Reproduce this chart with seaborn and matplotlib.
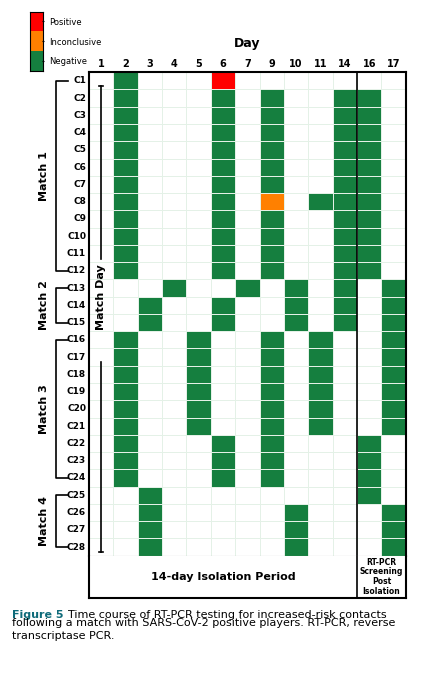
import numpy as np
import pandas as pd
import seaborn as sns
import matplotlib
matplotlib.use('Agg')
import matplotlib.pyplot as plt
from matplotlib.colors import ListedColormap

days = ['1', '2', '3', '4', '5', '6', '7', '9', '10', '11', '14', '16', '17']
contacts = ['C%d' % i for i in range(1, 29)]

# 1 = negative, 2 = inconclusive, 3 = positive (per contact: {day: result})
negative_days = {
    'C1': ['2'], 'C2': ['2', '6', '9', '14', '16'], 'C3': ['2', '6', '9', '14', '16'],
    'C4': ['2', '6', '9', '14', '16'], 'C5': ['2', '6', '9', '14', '16'],
    'C6': ['2', '6', '9', '14', '16'], 'C7': ['2', '6', '9', '14', '16'],
    'C8': ['2', '6', '11', '14', '16'], 'C9': ['2', '6', '9', '14', '16'],
    'C10': ['2', '6', '9', '14', '16'], 'C11': ['2', '6', '9', '14', '16'],
    'C12': ['2', '6', '9', '14', '16'],
    'C13': ['4', '7', '10', '14', '17'], 'C14': ['3', '6', '10', '14', '17'],
    'C15': ['3', '6', '10', '14', '17'],
    'C16': ['2', '5', '9', '11', '17'], 'C17': ['2', '5', '9', '11', '17'],
    'C18': ['2', '5', '9', '11', '17'], 'C19': ['2', '5', '9', '11', '17'],
    'C20': ['2', '5', '9', '11', '17'], 'C21': ['2', '5', '9', '11', '17'],
    'C22': ['2', '6', '9', '16'], 'C23': ['2', '6', '9', '16'], 'C24': ['2', '6', '9', '16'],
    'C25': ['3', '16'], 'C26': ['3', '10', '17'], 'C27': ['3', '10', '17'],
    'C28': ['3', '10', '17'],
}
inconclusive = [('C8', '9')]
positive = [('C1', '6')]

matches = ['Match 1', 'Match 2', 'Match 3', 'Match 4']
match_rows = [(0, 11), (12, 14), (15, 23), (24, 27)]

status_labels = ['Negative', 'Inconclusive', 'Positive']
status_colors = ['#157f3f', '#ff8000', '#ff0000']

df = pd.DataFrame(np.nan, index=contacts, columns=days)
for c, ds in negative_days.items():
    for d in ds:
        df.loc[c, d] = 1
for c, d in inconclusive:
    df.loc[c, d] = 2
for c, d in positive:
    df.loc[c, d] = 3

fig = plt.figure(figsize=(4.25, 6.81), dpi=100)
ax = fig.add_axes([0.209, 0.184, 0.746, 0.71])
cmap = ListedColormap(status_colors)
sns.heatmap(df, ax=ax, cmap=cmap, vmin=0.5, vmax=3.5, cbar=False,
            linewidths=0.4, linecolor='#e4f1e7')
ax.xaxis.tick_top()
ax.tick_params(length=0, pad=2)
ax.set_xticklabels(days, fontsize=7, fontweight='bold', rotation=0)
ax.set_yticklabels(contacts, fontsize=6.5, fontweight='bold', rotation=0)
ax.set_xlabel('')
ax.set_ylabel('')
ax.text(6.5, -1.3, 'Day', ha='center', va='bottom', fontsize=9, fontweight='bold')
for s in ['top', 'right', 'left']:
    ax.spines[s].set_visible(True)
    ax.spines[s].set_linewidth(1.5)
ax.spines['bottom'].set_visible(True)
ax.spines['bottom'].set_color('#999999')
ax.axvline(11, color='black', lw=1.2)

# bracket labels for matches
for name, (r0, r1) in zip(matches, match_rows):
    x0, x1 = -0.85, -1.35
    kw = dict(color='black', lw=1.2, clip_on=False)
    ax.plot([x0, x1, x1, x0], [r0 + 0.5, r0 + 0.5, r1 + 0.5, r1 + 0.5], **kw)
    ax.text(-1.85, (r0 + r1 + 1) / 2, name, rotation=90, ha='center', va='center',
            fontsize=8, fontweight='bold')

# match day arrow
ax.plot([0.5, 0.5], [0.8, 10.8], color='black', lw=1.2)
ax.plot([0.4, 0.6], [0.8, 0.8], color='black', lw=1.2)
ax.text(0.5, 13.0, 'Match Day', rotation=90, ha='center', va='center',
        fontsize=8, fontweight='bold')
ax.plot([0.5, 0.5], [16.8, 27.8], color='black', lw=1.2)
ax.plot([0.4, 0.6], [27.8, 27.8], color='black', lw=1.2)

# bottom period box
bx = fig.add_axes([0.209, 0.122, 0.746, 0.062])
bx.set_xlim(0, 13)
bx.set_ylim(0, 1)
bx.set_xticks([])
bx.set_yticks([])
for s in bx.spines.values():
    s.set_linewidth(1.5)
bx.spines['top'].set_visible(False)
bx.axvline(11, color='black', lw=1.2)
bx.text(5.5, 0.5, '14-day Isolation Period', ha='center', va='center',
        fontsize=8, fontweight='bold')
bx.text(12, 0.5, 'RT-PCR\nScreening\nPost\nIsolation', ha='center', va='center',
        fontsize=5.5, fontweight='bold', linespacing=1.1)

# legend colorbar
cx = fig.add_axes([0.071, 0.896, 0.03, 0.087])
cx.imshow(np.array([[3], [2], [1]]), cmap=cmap, vmin=0.5, vmax=3.5, aspect='auto')
cx.set_xticks([])
cx.yaxis.tick_right()
cx.set_yticks([0, 1, 2])
cx.set_yticklabels(status_labels[::-1], fontsize=6)
cx.tick_params(axis='y', length=2, direction='inout')

fig.text(0.028, 0.093, 'Figure 5', fontsize=8, fontweight='bold', color='#0f6b7a')
fig.text(0.16, 0.093, 'Time course of RT-PCR testing for increased-risk contacts',
         fontsize=8)
fig.text(0.028, 0.062,
         'following a match with SARS-CoV-2 positive players. RT-PCR, reverse\ntranscriptase PCR.',
         fontsize=8, va='baseline', linespacing=1.3)

fig.savefig('out.png', dpi=100)
plt.close()
